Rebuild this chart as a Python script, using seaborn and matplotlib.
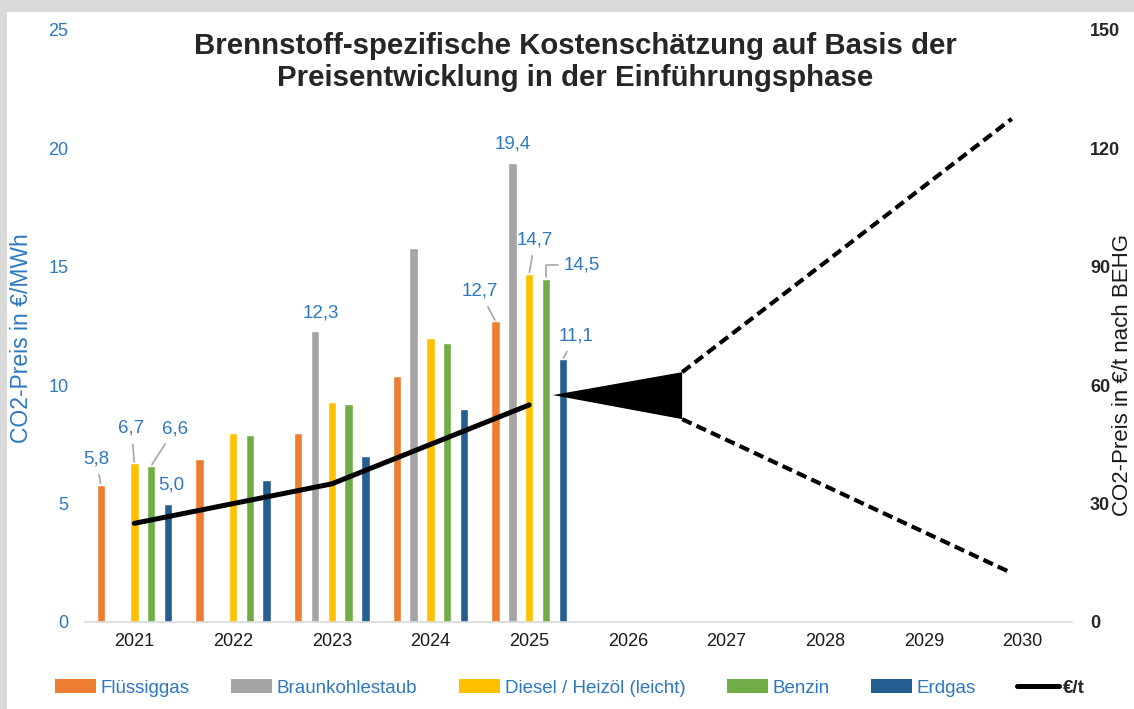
import numpy as np
import pandas as pd
import seaborn as sns
import matplotlib.pyplot as plt
from matplotlib.patches import Patch, Rectangle
from matplotlib.lines import Line2D

# Daten
years = ['2021', '2022', '2023', '2024', '2025', '2026', '2027', '2028', '2029', '2030']
fuels = ['Flüssiggas', 'Braunkohlestaub', 'Diesel / Heizöl (leicht)', 'Benzin', 'Erdgas']
colors = ['#ED7D31', '#A5A5A5', '#FFC000', '#70AD47', '#255E91']

fluessiggas = [5.8, 6.9, 8.0, 10.4, 12.7]
braunkohle = [np.nan, np.nan, 12.3, 15.8, 19.4]
diesel = [6.7, 8.0, 9.3, 12.0, 14.7]
benzin = [6.6, 7.9, 9.2, 11.8, 14.5]
erdgas = [5.0, 6.0, 7.0, 9.0, 11.1]

# BEHG-Preis in EUR/t (rechte Achse)
price_x = [0, 1, 2, 3, 4]
price_eur_t = [25, 30, 35, 45, 55]

# Ausblick-Korridor (Kategorie-Position, EUR/t)
fan_x = [4.24, 5.55, 5.55]
fan_y = [57.5, 63.3, 51.4]
upper_x = [5.55, 8.89]
upper_y = [63.3, 127.5]
lower_x = [5.55, 8.89]
lower_y = [51.4, 12.4]

blue_txt = '#2E78C2'

series = [fluessiggas, braunkohle, diesel, benzin, erdgas]
rows = []
for f, vals in zip(fuels, series):
    for y, v in zip(years[:5], vals):
        rows.append({'Jahr': y, 'Brennstoff': f, 'Wert': v})
df = pd.DataFrame(rows)

sns.set_style('white')
plt.rcParams['font.family'] = ['Liberation Sans', 'DejaVu Sans']

fig = plt.figure(figsize=(11.34, 7.09), dpi=100, facecolor='#D9D9D9')
fig.patches.append(Rectangle((7 / 1134, 0), 1, 1 - 12 / 709, transform=fig.transFigure,
                             facecolor='white', edgecolor='none', zorder=-10))
ax = fig.add_axes([85 / 1134, 1 - 622 / 709, (1072 - 85) / 1134, (622 - 30) / 709])
ax.set_facecolor('none')

sns.barplot(data=df, x='Jahr', y='Wert', hue='Brennstoff', order=years, hue_order=fuels,
            palette=colors, width=0.85, gap=0.5, errorbar=None, ax=ax, legend=False,
            saturation=1)

ax.set_xlim(-0.5, 9.5)
ax.set_ylim(0, 25)
ax.set_yticks([0, 5, 10, 15, 20, 25])
ax.set_xlabel('')
ax.set_ylabel('CO2-Preis in €/MWh', color=blue_txt, fontsize=16.5, va='center')
ax.yaxis.set_label_coords(-0.064, 0.48)
ax.tick_params(axis='y', colors=blue_txt, labelsize=13, length=0, pad=12)
ax.tick_params(axis='x', labelsize=13, length=0, pad=8, labelcolor='#1A1A1A')
ax.set_xticks(np.arange(-0.5, 10, 1), minor=True)
ax.tick_params(axis='x', which='minor', length=5, color='#BFBFBF', width=1)
for s in ['top', 'left', 'right']:
    ax.spines[s].set_visible(False)
ax.spines['bottom'].set_color('#D9D9D9')
ax.spines['bottom'].set_linewidth(1.2)

# Datenbeschriftungen: (Jahr-Index, Brennstoff-Index, dx, dy, Linie)
offsets = [-0.34, -0.17, 0.0, 0.17, 0.34]
labels = [
    (0, 0, -5, 26, True),
    (0, 2, -3, 35, True),
    (0, 3, 24, 37, True),
    (0, 4, 3, 19, False),
    (2, 1, 6, 18, False),
    (4, 0, -16, 30, True),
    (4, 1, 0, 19, False),
    (4, 2, 6, 34, True),
    (4, 3, 36, 14, 'elbow'),
    (4, 4, 13, 23, True),
]
for yi, fi, dx, dy, line in labels:
    v = series[fi][yi]
    txt = f'{v:.1f}'.replace('.', ',')
    kw = dict(xy=(yi + offsets[fi], v), xytext=(dx, dy), textcoords='offset pixels',
              ha='center', va='center', fontsize=13.5, color=blue_txt)
    if line is True:
        kw['arrowprops'] = dict(arrowstyle='-', color='#A6A6A6', lw=1.2, shrinkA=3, shrinkB=1)
    elif line == 'elbow':
        kw['arrowprops'] = dict(arrowstyle='-', color='#A6A6A6', lw=1.2, shrinkA=2, shrinkB=1,
                                connectionstyle='angle,angleA=0,angleB=90,rad=0')
    ax.annotate(txt, **kw)

# Rechte Achse: EUR/t
ax2 = ax.twinx()
ax2.set_ylim(0, 150)
ax2.set_yticks([0, 30, 60, 90, 120, 150])
ax2.tick_params(axis='y', length=0, labelsize=13, pad=13, labelcolor='#262626')
for t in ax2.get_yticklabels():
    t.set_fontweight('bold')
for s in ['top', 'left', 'right', 'bottom']:
    ax2.spines[s].set_visible(False)
ax2.set_ylabel('CO2-Preis in €/t nach BEHG', fontsize=16, color='#1A1A1A', va='center')
ax2.yaxis.set_label_coords(1.051, 0.417)

sns.lineplot(x=price_x, y=price_eur_t, color='black', lw=3.6, ax=ax2)
ax2.fill(fan_x, fan_y, color='black', lw=0)
ax2.plot(upper_x, upper_y, color='black', lw=3, ls=(0, (2.5, 1.3)))
ax2.plot(lower_x, lower_y, color='black', lw=3, ls=(0, (2.5, 1.3)))
ax2.set_xlim(-0.5, 9.5)

fig.text(575 / 1134, 1 - 62 / 709,
         'Brennstoff-spezifische Kostenschätzung auf Basis der\nPreisentwicklung in der Einführungsphase',
         ha='center', va='center', fontsize=21.2, fontweight='bold', linespacing=1.15)

handles = [Patch(facecolor=c, edgecolor='none') for c in colors]
handles.append(Line2D([0], [0], color='black', lw=3.6))
leg = fig.legend(handles, fuels + ['€/t'], loc='center', bbox_to_anchor=(570 / 1134, 1 - 688 / 709),
                 ncol=6, frameon=False, fontsize=13.5, handlelength=2.2, handleheight=0.7,
                 handletextpad=0.25, columnspacing=2.2)
for i, t in enumerate(leg.get_texts()):
    if i < 5:
        t.set_color(blue_txt)
    else:
        t.set_fontweight('bold')

fig.savefig('out.png', dpi=100, facecolor=fig.get_facecolor())
